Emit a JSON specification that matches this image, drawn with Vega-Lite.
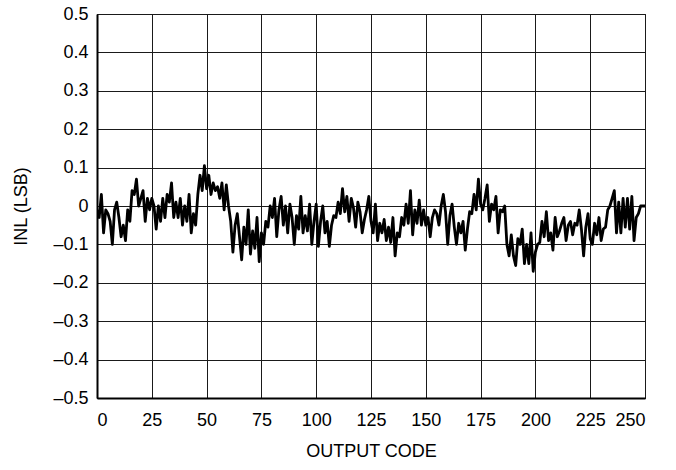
{
  "$schema": "https://vega.github.io/schema/vega-lite/v6.json",
  "width": 548,
  "height": 384,
  "autosize": {"type": "none"},
  "padding": {"left": 97, "top": 14, "right": 31, "bottom": 72},
  "background": "white",
  "data": {
    "values": [
      {"code": 0, "inl": -0.01}, {"code": 1, "inl": -0.03}, {"code": 2, "inl": 0.03}, {"code": 3, "inl": -0.07}, {"code": 4, "inl": -0.01},
      {"code": 5, "inl": -0.02}, {"code": 6, "inl": -0.04}, {"code": 7, "inl": -0.1}, {"code": 8, "inl": -0.01}, {"code": 9, "inl": 0.01},
      {"code": 10, "inl": -0.03}, {"code": 11, "inl": -0.08}, {"code": 12, "inl": -0.05}, {"code": 13, "inl": -0.09}, {"code": 14, "inl": -0.01},
      {"code": 15, "inl": -0.04}, {"code": 16, "inl": 0.04}, {"code": 17, "inl": 0.03}, {"code": 18, "inl": 0.07}, {"code": 19, "inl": 0.0},
      {"code": 20, "inl": 0.02}, {"code": 21, "inl": 0.04}, {"code": 22, "inl": -0.04}, {"code": 23, "inl": 0.02}, {"code": 24, "inl": -0.01},
      {"code": 25, "inl": 0.02}, {"code": 26, "inl": 0.0}, {"code": 27, "inl": -0.06}, {"code": 28, "inl": 0.0}, {"code": 29, "inl": -0.04},
      {"code": 30, "inl": 0.02}, {"code": 31, "inl": -0.03}, {"code": 32, "inl": 0.03}, {"code": 33, "inl": 0.01}, {"code": 34, "inl": 0.06},
      {"code": 35, "inl": -0.03}, {"code": 36, "inl": 0.01}, {"code": 37, "inl": -0.03}, {"code": 38, "inl": 0.02}, {"code": 39, "inl": -0.05},
      {"code": 40, "inl": 0.0}, {"code": 41, "inl": -0.04}, {"code": 42, "inl": 0.03}, {"code": 43, "inl": -0.07}, {"code": 44, "inl": -0.02},
      {"code": 45, "inl": -0.05}, {"code": 46, "inl": 0.03}, {"code": 47, "inl": 0.08}, {"code": 48, "inl": 0.04}, {"code": 49, "inl": 0.105},
      {"code": 50, "inl": 0.045}, {"code": 51, "inl": 0.08}, {"code": 52, "inl": 0.03}, {"code": 53, "inl": 0.06}, {"code": 54, "inl": 0.04},
      {"code": 55, "inl": 0.05}, {"code": 56, "inl": 0.02}, {"code": 57, "inl": 0.06}, {"code": 58, "inl": -0.01}, {"code": 59, "inl": 0.055},
      {"code": 60, "inl": 0.0}, {"code": 61, "inl": -0.04}, {"code": 62, "inl": -0.12}, {"code": 63, "inl": -0.05}, {"code": 64, "inl": -0.02},
      {"code": 65, "inl": -0.08}, {"code": 66, "inl": -0.14}, {"code": 67, "inl": -0.055}, {"code": 68, "inl": -0.1}, {"code": 69, "inl": -0.01},
      {"code": 70, "inl": -0.125}, {"code": 71, "inl": -0.065}, {"code": 72, "inl": -0.11}, {"code": 73, "inl": -0.03}, {"code": 74, "inl": -0.145},
      {"code": 75, "inl": -0.07}, {"code": 76, "inl": -0.1}, {"code": 77, "inl": -0.04}, {"code": 78, "inl": -0.055}, {"code": 79, "inl": 0.0},
      {"code": 80, "inl": -0.03}, {"code": 81, "inl": 0.02}, {"code": 82, "inl": -0.08}, {"code": 83, "inl": -0.01}, {"code": 84, "inl": 0.025},
      {"code": 85, "inl": -0.05}, {"code": 86, "inl": 0.0}, {"code": 87, "inl": -0.07}, {"code": 88, "inl": 0.005}, {"code": 89, "inl": -0.03},
      {"code": 90, "inl": -0.1}, {"code": 91, "inl": -0.025}, {"code": 92, "inl": -0.06}, {"code": 93, "inl": 0.025}, {"code": 94, "inl": -0.07},
      {"code": 95, "inl": -0.025}, {"code": 96, "inl": -0.065}, {"code": 97, "inl": 0.005}, {"code": 98, "inl": -0.1}, {"code": 99, "inl": -0.04},
      {"code": 100, "inl": 0.005}, {"code": 101, "inl": -0.105}, {"code": 102, "inl": -0.04}, {"code": 103, "inl": 0.0}, {"code": 104, "inl": -0.07},
      {"code": 105, "inl": -0.04}, {"code": 106, "inl": -0.105}, {"code": 107, "inl": -0.05}, {"code": 108, "inl": -0.025}, {"code": 109, "inl": -0.03},
      {"code": 110, "inl": 0.01}, {"code": 111, "inl": -0.02}, {"code": 112, "inl": 0.045}, {"code": 113, "inl": -0.015}, {"code": 114, "inl": 0.025},
      {"code": 115, "inl": -0.04}, {"code": 116, "inl": 0.02}, {"code": 117, "inl": -0.005}, {"code": 118, "inl": -0.055}, {"code": 119, "inl": 0.01},
      {"code": 120, "inl": -0.015}, {"code": 121, "inl": -0.07}, {"code": 122, "inl": -0.035}, {"code": 123, "inl": -0.01}, {"code": 124, "inl": 0.025},
      {"code": 125, "inl": -0.04}, {"code": 126, "inl": -0.07}, {"code": 127, "inl": 0.005}, {"code": 128, "inl": -0.09}, {"code": 129, "inl": -0.045},
      {"code": 130, "inl": -0.07}, {"code": 131, "inl": -0.035}, {"code": 132, "inl": -0.09}, {"code": 133, "inl": -0.055}, {"code": 134, "inl": -0.095},
      {"code": 135, "inl": -0.03}, {"code": 136, "inl": -0.13}, {"code": 137, "inl": -0.07}, {"code": 138, "inl": -0.08}, {"code": 139, "inl": -0.03},
      {"code": 140, "inl": -0.05}, {"code": 141, "inl": 0.005}, {"code": 142, "inl": -0.045}, {"code": 143, "inl": 0.04}, {"code": 144, "inl": -0.075},
      {"code": 145, "inl": -0.01}, {"code": 146, "inl": -0.045}, {"code": 147, "inl": 0.015}, {"code": 148, "inl": -0.05}, {"code": 149, "inl": -0.01},
      {"code": 150, "inl": -0.05}, {"code": 151, "inl": -0.03}, {"code": 152, "inl": -0.08}, {"code": 153, "inl": -0.03}, {"code": 154, "inl": -0.01},
      {"code": 155, "inl": -0.02}, {"code": 156, "inl": -0.05}, {"code": 157, "inl": 0.0}, {"code": 158, "inl": 0.03}, {"code": 159, "inl": -0.015},
      {"code": 160, "inl": -0.1}, {"code": 161, "inl": -0.025}, {"code": 162, "inl": 0.005}, {"code": 163, "inl": -0.055}, {"code": 164, "inl": -0.1},
      {"code": 165, "inl": -0.045}, {"code": 166, "inl": -0.07}, {"code": 167, "inl": -0.04}, {"code": 168, "inl": -0.115}, {"code": 169, "inl": -0.06},
      {"code": 170, "inl": -0.015}, {"code": 171, "inl": -0.02}, {"code": 172, "inl": 0.03}, {"code": 173, "inl": -0.01}, {"code": 174, "inl": 0.07},
      {"code": 175, "inl": 0.005}, {"code": 176, "inl": -0.01}, {"code": 177, "inl": 0.02}, {"code": 178, "inl": 0.055}, {"code": 179, "inl": -0.04},
      {"code": 180, "inl": 0.005}, {"code": 181, "inl": -0.01}, {"code": 182, "inl": 0.025}, {"code": 183, "inl": -0.07}, {"code": 184, "inl": -0.01},
      {"code": 185, "inl": -0.015}, {"code": 186, "inl": 0.0}, {"code": 187, "inl": -0.1}, {"code": 188, "inl": -0.13}, {"code": 189, "inl": -0.075},
      {"code": 190, "inl": -0.13}, {"code": 191, "inl": -0.155}, {"code": 192, "inl": -0.085}, {"code": 193, "inl": -0.1}, {"code": 194, "inl": -0.06},
      {"code": 195, "inl": -0.15}, {"code": 196, "inl": -0.1}, {"code": 197, "inl": -0.15}, {"code": 198, "inl": -0.07}, {"code": 199, "inl": -0.17},
      {"code": 200, "inl": -0.12}, {"code": 201, "inl": -0.1}, {"code": 202, "inl": -0.095}, {"code": 203, "inl": -0.04}, {"code": 204, "inl": -0.08},
      {"code": 205, "inl": -0.015}, {"code": 206, "inl": -0.09}, {"code": 207, "inl": -0.07}, {"code": 208, "inl": -0.115}, {"code": 209, "inl": -0.03},
      {"code": 210, "inl": -0.08}, {"code": 211, "inl": -0.065}, {"code": 212, "inl": -0.045}, {"code": 213, "inl": -0.03}, {"code": 214, "inl": -0.09},
      {"code": 215, "inl": -0.05}, {"code": 216, "inl": -0.04}, {"code": 217, "inl": -0.075}, {"code": 218, "inl": -0.045}, {"code": 219, "inl": -0.05},
      {"code": 220, "inl": -0.01}, {"code": 221, "inl": -0.06}, {"code": 222, "inl": -0.13}, {"code": 223, "inl": -0.055}, {"code": 224, "inl": -0.02},
      {"code": 225, "inl": -0.085}, {"code": 226, "inl": -0.1}, {"code": 227, "inl": -0.045}, {"code": 228, "inl": -0.075}, {"code": 229, "inl": -0.03},
      {"code": 230, "inl": -0.09}, {"code": 231, "inl": -0.06}, {"code": 232, "inl": -0.055}, {"code": 233, "inl": -0.01}, {"code": 234, "inl": 0.0},
      {"code": 235, "inl": 0.02}, {"code": 236, "inl": 0.04}, {"code": 237, "inl": -0.07}, {"code": 238, "inl": 0.01}, {"code": 239, "inl": -0.07},
      {"code": 240, "inl": 0.02}, {"code": 241, "inl": -0.055}, {"code": 242, "inl": 0.02}, {"code": 243, "inl": -0.06}, {"code": 244, "inl": 0.025},
      {"code": 245, "inl": -0.09}, {"code": 246, "inl": -0.03}, {"code": 247, "inl": -0.02}, {"code": 248, "inl": 0.0}, {"code": 249, "inl": 0.0},
      {"code": 250, "inl": 0.0}
    ]
  },
  "mark": {"type": "line", "color": "black", "strokeWidth": 2.8, "strokeJoin": "round", "clip": true},
  "encoding": {
    "x": {
      "field": "code",
      "type": "quantitative",
      "scale": {"domain": [0, 250], "nice": false, "zero": false},
      "axis": {
        "title": "OUTPUT CODE",
        "values": [0, 25, 50, 75, 100, 125, 150, 175, 200, 225, 250],
        "labelPadding": 13,
        "titlePadding": 13
      }
    },
    "y": {
      "field": "inl",
      "type": "quantitative",
      "scale": {"domain": [-0.5, 0.5], "nice": false, "zero": false},
      "axis": {
        "title": "INL (LSB)",
        "values": [-0.5, -0.4, -0.3, -0.2, -0.1, 0, 0.1, 0.2, 0.3, 0.4, 0.5],
        "labelExpr": "datum.value == 0 ? '0' : (datum.value < 0 ? '–' : '') + format(abs(datum.value), '.1f')",
        "labelPadding": 9,
        "titlePadding": 22
      }
    }
  },
  "config": {
    "font": "Liberation Sans",
    "view": {"stroke": "black", "strokeWidth": 1},
    "axis": {
      "grid": true,
      "gridColor": "#1a1a1a",
      "gridWidth": 1,
      "gridOpacity": 1,
      "domainColor": "black",
      "domainWidth": 2,
      "ticks": false,
      "labelFont": "Liberation Sans",
      "labelFontSize": 18,
      "labelColor": "black",
      "titleFont": "Liberation Sans",
      "titleFontSize": 18,
      "titleFontWeight": "normal",
      "titleColor": "black"
    }
  }
}
